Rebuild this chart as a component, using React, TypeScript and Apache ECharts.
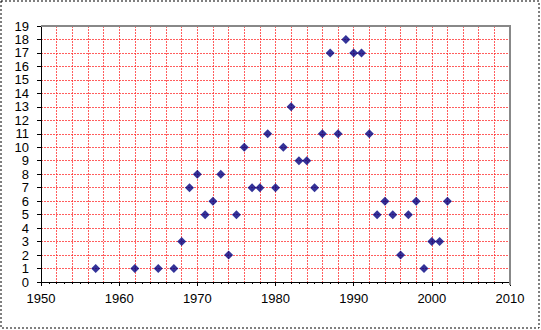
import React, { useEffect, useRef } from "react";
import * as echarts from "echarts";

const years = [1957, 1962, 1965, 1967, 1968, 1969, 1970, 1971, 1972, 1973, 1974, 1975, 1976, 1977, 1978, 1979, 1980, 1981, 1982, 1983, 1984, 1985, 1986, 1987, 1988, 1989, 1990, 1991, 1992, 1993, 1994, 1995, 1996, 1997, 1998, 1999, 2000, 2001, 2002];
const counts = [1, 1, 1, 1, 3, 7, 8, 5, 6, 8, 2, 5, 10, 7, 7, 11, 7, 10, 13, 9, 9, 7, 11, 17, 11, 18, 17, 17, 11, 5, 6, 5, 2, 5, 6, 1, 3, 3, 6];

const xMin = 1950;
const xMax = 2010;
const yMin = 0;
const yMax = 19;

export default function App() {
  const ref = useRef<HTMLDivElement>(null);
  useEffect(() => {
    document.body.style.margin = "0";
    const chart = echarts.init(ref.current!, undefined, { renderer: "svg" });
    const font = { fontFamily: "Liberation Sans", fontSize: 13, color: "#000", lineHeight: 13 };
    const gridLine = { show: true, lineStyle: { color: "rgba(255,40,40,0.75)", type: [2, 1] as any, width: 1 } };
    const L = 41, T = 26, R = 510, B = 282;
    chart.setOption({
      animation: false,
      backgroundColor: "#fff",
      grid: { left: L, right: 541 - R, top: T, bottom: 330 - B },
      xAxis: [
        {
          type: "value",
          min: xMin,
          max: xMax,
          interval: 10,
          axisLabel: { ...font, margin: 10, formatter: (v: number) => String(v) },
          axisLine: { show: true, lineStyle: { color: "#000", width: 1 } },
          axisTick: { show: true, length: 4, lineStyle: { color: "#000" } },
          splitLine: gridLine,
          minorSplitLine: gridLine,
          minorTick: { show: false, splitNumber: 5 },
        },
        {
          type: "value",
          min: xMin,
          max: xMax,
          interval: 1,
          position: "bottom",
          axisLabel: { show: false },
          axisLine: { show: false },
          axisTick: { show: true, length: 2, lineStyle: { color: "#000" } },
          splitLine: { show: false },
        },
      ],
      yAxis: {
        type: "value",
        min: yMin,
        max: yMax,
        interval: 1,
        axisLabel: { ...font, margin: 12 },
        axisLine: { show: true, lineStyle: { color: "#000", width: 1 } },
        axisTick: { show: true, length: 4, lineStyle: { color: "#000" } },
        splitLine: gridLine,
      },
      graphic: [
        {
          type: "rect",
          shape: { x: 1, y: 1, width: 538, height: 327 },
          style: { fill: "none", stroke: "#000", lineWidth: 1, lineDash: [2, 2] },
          silent: true,
        },
        {
          type: "polyline",
          shape: { points: [[L, T], [R, T], [R, B + 3]] },
          style: { fill: "none", stroke: "#888", lineWidth: 2 },
          silent: true,
          z: 10,
        },
      ],
      series: [
        {
          type: "scatter",
          xAxisIndex: 0,
          symbol: "diamond",
          symbolSize: 9,
          itemStyle: { color: "#000080" },
          data: years.map((y, i) => [y, counts[i]]),
          z: 5,
        },
      ],
    });
    return () => chart.dispose();
  }, []);
  return <div ref={ref} style={{ width: 541, height: 330 }} />;
}
